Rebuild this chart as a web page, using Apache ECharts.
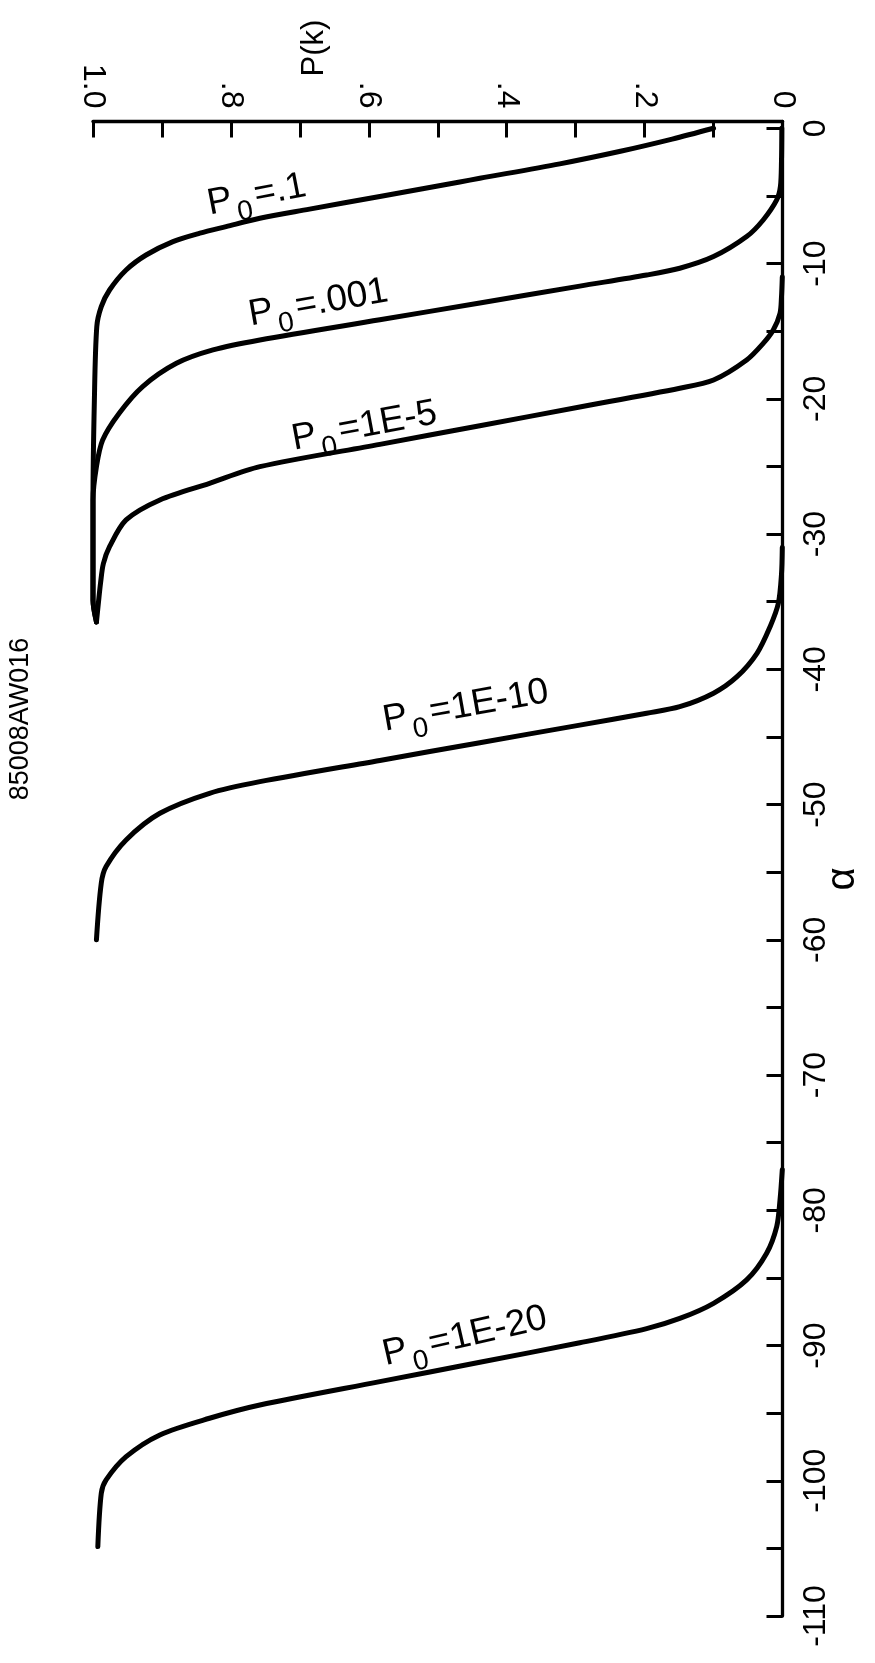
<!DOCTYPE html>
<html>
<head>
<meta charset="utf-8">
<script src="https://cdn.jsdelivr.net/npm/echarts@6/dist/echarts.min.js"></script>
<style>
  html, body { margin: 0; padding: 0; background: #fff; }
  #chart { width: 875px; height: 1663px; }
</style>
</head>
<body>
<div id="chart"></div>
<script>
// P(k) versus alpha for several starting probabilities P0.
// Each curve: alpha values and matching P(k) values.
const alphaP01 = [0, -0.8, -1.7, -2.63, -3.70, -3.97, -5.04, -5.98, -6.65, -7.27, -7.76, -8.38, -9.37, -10.48, -11.96, -13.19, -14.67, -20.1, -27.5, -34.9, -36.5];
const pkP01    = [0.1, 0.16, 0.235, 0.323, 0.439, 0.468, 0.584, 0.686, 0.758, 0.807, 0.845, 0.884, 0.923, 0.952, 0.976, 0.988, 0.9945, 0.998, 1.0, 1.0, 0.995];

const alphaP001 = [0, -2.5, -4.3, -5.3, -6.78, -8.01, -9.49, -10.35, -10.85, -11.67, -12.92, -14.16, -15.65, -16.39, -17.38, -19.1, -21.07, -23.05, -25.02, -27.48, -34.9, -36.5];
const pkP001    = [0.001, 0.0015, 0.003, 0.0084, 0.028, 0.052, 0.10, 0.149, 0.197, 0.294, 0.439, 0.584, 0.758, 0.826, 0.879, 0.928, 0.962, 0.986, 0.995, 1.0, 1.0, 0.995];

const alphaP1e5 = [-11, -12.5, -13.68, -14.91, -15.9, -17.13, -18.61, -19.22, -20.61, -21.99, -23.37, -25.02, -26.25, -27.48, -28.96, -30.94, -32.2, -33.6, -35.0, -36.5];
const pkP1e5    = [0.0003, 0.0015, 0.0036, 0.0134, 0.028, 0.052, 0.10, 0.149, 0.294, 0.439, 0.584, 0.758, 0.831, 0.903, 0.952, 0.976, 0.985, 0.989, 0.992, 0.995];

const alphaP1e10 = [-31, -33, -35.12, -36.85, -38.82, -40.55, -41.77, -42.77, -43.25, -44.13, -45.43, -46.74, -48.31, -49.17, -50.65, -52.62, -54.59, -55.82, -60.0];
const pkP1e10    = [0.0003, 0.0015, 0.006, 0.018, 0.037, 0.066, 0.10, 0.149, 0.197, 0.294, 0.439, 0.584, 0.758, 0.831, 0.903, 0.952, 0.981, 0.988, 0.995];

const alphaP1e20 = [-77, -79.24, -81.21, -83.18, -85.15, -86.88, -88.0, -88.75, -89.8, -91.24, -92.67, -94.4, -95.38, -96.61, -98.22, -99.94, -100.93, -104.87];
const pkP1e20    = [0.0003, 0.0036, 0.0084, 0.023, 0.052, 0.10, 0.149, 0.197, 0.294, 0.439, 0.584, 0.758, 0.831, 0.903, 0.952, 0.981, 0.988, 0.993];

// Curve captions: value after "P0=", anchor point [P, alpha], tilt in degrees
const curveNames   = ['.1', '.001', '1E-5', '1E-10', '1E-20'];
const labelAnchors = [[0.761, -5.3], [0.672, -13.3], [0.605, -22.4], [0.458, -43.1], [0.459, -89.7]];
const labelTilts   = [11, 10, 10.5, 10, 13];

// Axis ranges and tick steps
const pkMin = 0, pkMax = 1, pkStep = 0.1;
const alphaMin = -110, alphaMax = 0.5, alphaStep = 5;

const FONT = '"Liberation Sans", Arial, sans-serif';

function pairs(ps, as) { return ps.map((p, i) => [p, as[i]]); }

const curves = [
  pairs(pkP01, alphaP01),
  pairs(pkP001, alphaP001),
  pairs(pkP1e5, alphaP1e5),
  pairs(pkP1e10, alphaP1e10),
  pairs(pkP1e20, alphaP1e20)
];

const chart = echarts.init(document.getElementById('chart'), null, { renderer: 'canvas' });

const option = {
  backgroundColor: '#fff',
  animation: false,
  grid: { left: 93, right: 92.5, top: 121.5, bottom: 47, containLabel: false, outerBoundsMode: 'none' },
  xAxis: {
    type: 'value',
    position: 'top',
    inverse: true,
    min: pkMin, max: pkMax, interval: pkStep,
    axisLine: { show: true, onZero: false, lineStyle: { color: '#000', width: 3.3 } },
    axisTick: { show: true, inside: true, length: 16, lineStyle: { color: '#000', width: 3 } },
    axisLabel: {
      rotate: 90, margin: 13, fontSize: 32, color: '#000', fontFamily: FONT,
      formatter: function (v) {
        const t = Math.round(v * 10);
        if (t % 2 !== 0) return '';
        if (t === 10) return '1.0';
        if (t === 0) return '0';
        return '.' + t;
      }
    },
    splitLine: { show: false }
  },
  yAxis: {
    type: 'value',
    position: 'right',
    min: alphaMin, max: alphaMax, interval: alphaStep,
    axisLine: { show: true, onZero: false, lineStyle: { color: '#000', width: 3.3 } },
    axisTick: { show: true, inside: true, length: 16, lineStyle: { color: '#000', width: 3 } },
    axisLabel: {
      rotate: 90, margin: 18, fontSize: 32, color: '#000', fontFamily: FONT,
      formatter: function (v) {
        const r = Math.round(v);
        if (Math.abs(v - r) > 1e-6 || r % 10 !== 0) return '';
        return String(r);
      }
    },
    splitLine: { show: false }
  },
  series: curves.map(function (d) {
    return {
      type: 'line',
      data: d,
      symbol: 'none',
      smooth: 0.3,
      lineStyle: { color: '#000', width: 5, cap: 'round', join: 'round' },
      z: 3
    };
  })
};

chart.setOption(option);

// Captions placed from data coordinates, plus the axis titles and figure code
const graphics = curveNames.map(function (name, i) {
  const pos = chart.convertToPixel({ gridIndex: 0 }, labelAnchors[i]);
  return {
    type: 'text',
    x: pos[0], y: pos[1],
    rotation: labelTilts[i] * Math.PI / 180,
    style: {
      text: '{m|P}{s|0}{m|=' + name + '}',
      align: 'center', verticalAlign: 'middle',
      fill: '#000',
      rich: {
        m: { fontSize: 37, fontFamily: FONT, fill: '#000', verticalAlign: 'bottom', padding: [0, 2, 10, 2] },
        s: { fontSize: 28, fontFamily: FONT, fill: '#000', verticalAlign: 'bottom', padding: [0, 2, 0, 1] }
      }
    },
    z: 10
  };
});

// Title of the alpha axis, beside its tick labels
const alphaTitlePos = chart.convertToPixel({ gridIndex: 0 }, [0, -55.5]);
graphics.push({
  type: 'text', x: alphaTitlePos[0] + 60, y: alphaTitlePos[1], rotation: Math.PI / 2,
  style: { text: 'α', fontSize: 40, fontFamily: FONT, fill: '#000', align: 'center', verticalAlign: 'middle' }
});
graphics.push({
  type: 'text', x: 314, y: 48, rotation: Math.PI / 2,
  style: { text: 'P(k)', fontSize: 31, fontFamily: FONT, fill: '#000', align: 'center', verticalAlign: 'middle' }
});
graphics.push({
  type: 'text', x: 21, y: 719, rotation: Math.PI / 2,
  style: { text: '85008AW016', fontSize: 27, fontFamily: FONT, fill: '#000', align: 'center', verticalAlign: 'middle' }
});

chart.setOption({ graphic: graphics });
</script>
</body>
</html>
